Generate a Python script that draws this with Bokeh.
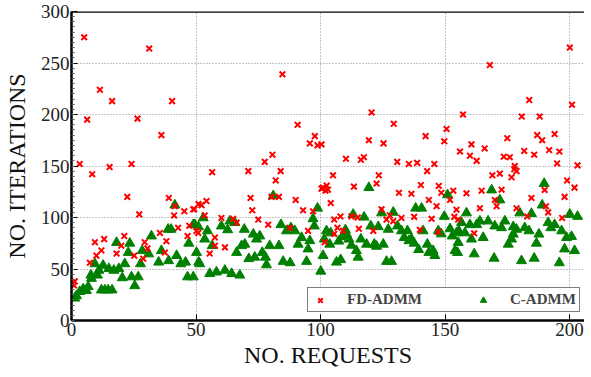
from bokeh.plotting import figure
from bokeh.models import Range1d, Span, Legend, LegendItem, FixedTicker
from bokeh.embed import file_html
from bokeh.resources import INLINE

# FD-ADMM (red x)
fd_x = [1, 1.3, 3.3, 5.1, 6.3, 7.4, 8.3, 9.4, 10, 11.4, 12, 13.1, 15.3, 16.3, 18.1, 20, 21.2, 22.4, 24.1, 25.2,
        26.5, 27.2, 28.8, 29.4, 30.5, 31.2, 35.5, 36.1, 37.5, 38.1, 39.1, 40.4, 41.2, 41.5, 42.8, 45.3, 46.6, 47.3,
        48.9, 49.3, 50.2, 50.9, 51, 52.2, 53.5, 54.2, 55.5, 56.5, 57.6, 57.6, 60.2, 61.6, 64.9, 66.3, 71, 71.9,
        72.6, 75, 77.6, 79, 80.3, 80.7, 82, 83.3, 84, 84.7, 87.7, 90, 90.8, 93, 95, 95.7, 97, 97.7, 98.8, 100.4,
        100.4, 101, 101.7, 102, 102.5, 103, 104.1, 105, 105.5, 105.5, 106.8, 108, 109.1, 110.2, 112.4, 113.4,
        114.9, 115.4, 116.2, 117.4, 119.4, 120.5, 121.2, 122.5, 123.4, 124.5, 125.3, 126.5, 127.8, 129.2, 129.4,
        130.8, 131.5, 132.5, 135.5, 136.5, 137.6, 138.8, 139.9, 140.3, 142.2, 142.8, 143.5, 144.6, 145.7, 146.6,
        147.3, 147.5, 148.5, 149.7, 150.6, 152, 153.3, 153.7, 154.6, 155.3, 156, 157.2, 158.6, 160, 160.6, 161.7,
        162.7, 164, 164.7, 165.9, 168, 169, 170, 170.7, 172, 172.7, 173.6, 175, 176, 176.7, 177.8, 178, 178.7,
        178.7, 180.8, 181.8, 183, 183.8, 184.7, 185.8, 187, 188, 189, 190, 190.5, 191.4, 191.8, 194, 195, 195.9,
        197, 198, 199, 200.1, 201, 202, 203.2]
fd_y = [34, 38, 152, 275, 195, 56, 142, 76, 63, 224, 68, 79, 149, 213, 65, 72.6, 82, 120, 152, 63,
        196, 103, 60, 76, 70, 264, 85, 180, 66, 77, 119, 213, 102, 111, 90, 106, 82, 92,
        108, 108, 87, 85, 113, 112, 102, 116, 65, 144, 80.5, 72.6, 99.6, 71, 98.7, 95, 145, 119,
        107, 98, 154, 93, 120, 161, 136, 120, 145, 239, 90, 117, 190, 107, 87, 172, 106, 179, 170, 171,
        128, 129, 76, 126, 131, 127, 114, 141, 98, 84, 90, 101, 87, 157, 101, 130,
        100, 89, 156, 158.5, 175, 202, 87, 133, 141, 108, 172, 98, 102, 96.5, 191,
        154, 124, 99.6, 152, 123, 100.6, 153, 88, 131.5, 179, 145, 117, 98.7, 152, 111,
        86, 130.6, 124, 174, 186, 117, 126, 100.6, 107.6, 98, 164, 200, 123.5, 160, 171, 84.7,
        155, 109, 126, 167, 248, 141, 117, 111, 142.6, 127, 159, 177, 158.5, 139, 147, 150, 145,
        109, 198, 164.6, 101, 214, 119, 161, 180, 198, 175, 126.7, 111, 105, 165.5, 181, 152.5, 164,
        99.6, 120, 136, 265, 209.5, 129, 150.6]

# C-ADMM (green triangles)
c_x = [1.3, 2, 3.3, 4.7, 6, 6.7, 7.8, 8, 9.4, 10.4, 11, 12, 12.7, 13.4, 14.7, 15, 16.3, 17, 18.1, 19, 20.4,
       21.4, 22.8, 23.4, 24.1, 25.4, 26.8, 27.7, 28.4, 31, 32.1, 35, 36.1, 38.8, 39, 40, 41.5, 42.2, 43.9, 45.8,
       46.6, 47.1, 48.9, 48.9, 49.5, 50.2, 51, 51.1, 51.5, 52.9, 53.5, 54.6, 55.5, 56.5, 58.2, 60.2, 61.6, 62.7,
       63.6, 64.3, 65.6, 66.3, 67.6, 68.3, 69.4, 69.6, 71.2, 73, 73.6, 74.3, 75.6, 76.6, 77.9, 78.3, 79.6, 81,
       83.3, 84.1, 85, 86.3, 87.8, 88.1, 89.7, 91, 92.4, 94.4, 95, 95.7, 97, 97.5, 98.8, 100.1, 101, 101.5,
       102.4, 103.7, 104.1, 106.4, 107.3, 108.1, 108.7, 110, 110.4, 111.4, 112.4, 113.1, 114.4, 115.1, 116.2,
       117.5, 118.5, 119.4, 120.2, 121.6, 122.5, 123.2, 124.5, 125.2, 126.5, 127.2, 128.5, 129.2, 130.9, 132.5,
       133.6, 134.9, 135.5, 136.5, 137.6, 138.2, 139.4, 140.6, 141.2, 142.9, 143.5, 145.2, 145.9, 147.3, 148.5,
       149.7, 151, 152, 152.9, 154, 154.6, 155, 155.3, 155.5, 156.6, 158, 158.6, 160, 160.6, 161.7, 162.7, 164,
       165.3, 167.3, 168.7, 169.7, 170, 172, 172.7, 174, 175.4, 176.7, 177.4, 177.4, 178.7, 180, 180.7, 182,
       183.7, 184.7, 185.8, 186.7, 187.7, 189, 189.8, 191.4, 192.5, 194, 195.9, 196.8, 198, 198.8, 200.1, 200.8,
       202, 203.2]
c_y = [21.7, 24, 28, 30.6, 29, 32.8, 44, 40.8, 55, 44, 48.7, 29.6, 53.5, 29.6, 29.6, 50.3, 29.6, 48.7, 75.7, 50.3, 41.4,
       55, 66, 75, 42.3, 33.7, 42.3, 55, 67.8, 64.6, 82, 56.6, 67.8, 88.5, 58, 88.5, 112, 63, 55, 56.6,
       42.3, 75, 93, 42.3, 93, 66, 91, 56.6, 55, 99.6, 79, 87, 45.5, 72.6, 47, 91.7, 48.7, 88,
       96.5, 45.5, 95, 66, 44, 72.6, 88.5, 74, 60, 83.8, 61.4, 79, 82, 66, 61.4, 54, 72.6, 121,
       72.6, 93, 57.3, 87, 56, 90, 87, 74, 80.5, 57.3, 69.4, 77.4, 98.7, 91.7, 109, 47.8, 63, 79,
       87, 74, 85, 56.6, 77, 59, 81.5, 88, 84, 79, 73, 103, 67.8, 61.4, 79,
       100.3, 74, 129, 91.7, 74, 72, 91, 104.4, 74, 57.3, 88.5, 57.3, 105, 91.7, 87,
       80.5, 87, 77.4, 79, 75, 109, 68.8, 109, 87, 74, 66, 67.8, 63, 87, 84,
       101, 122, 89, 82, 67.8, 85, 66, 75.7, 87, 95, 85, 104.4, 93, 79, 64.6, 93, 96.5,
       80.5, 96.5, 126.7, 60.4, 91.7, 117, 90, 96.5, 74, 79, 91, 83.8, 88.5, 104.4, 58, 90,
       87, 103.8, 60.4, 75, 83.8, 112, 133, 95, 90, 93, 56, 87, 69.4, 80.5, 103, 81.5,
       67.8, 101]

x_ticks = [0, 50, 100, 150, 200]
y_ticks = [0, 50, 100, 150, 200, 250, 300]
y_minor = list(range(0, 301, 5))
x_max = 206
y_max = 300

SERIF = "Liberation Serif"

p = figure(frame_width=513, frame_height=309, output_backend="svg", toolbar_location=None,
           x_range=Range1d(0, x_max), y_range=Range1d(0, y_max),
           min_border_left=62, min_border_right=0, min_border_top=11, min_border_bottom=40)
p.outline_line_color = None
p.background_fill_color = "white"

p.xaxis.ticker = FixedTicker(ticks=x_ticks)
p.yaxis.ticker = FixedTicker(ticks=y_ticks, minor_ticks=y_minor)

for ax in (p.xaxis[0], p.yaxis[0]):
    ax.axis_line_color = "black"
    ax.axis_line_width = 2.5
    ax.major_tick_in = 6
    ax.major_tick_out = 0
    ax.minor_tick_in = 3
    ax.minor_tick_out = 0
    ax.major_tick_line_color = "black"
    ax.minor_tick_line_color = "#555555"
    ax.major_label_text_font = SERIF
    ax.major_label_text_font_size = "19px"
    ax.major_label_text_color = "#222222"
    ax.axis_label_text_font = SERIF
    ax.axis_label_text_font_size = "24px"
    ax.axis_label_text_font_style = "normal"
    ax.axis_label_text_color = "#111111"
    ax.major_label_standoff = 2

p.xaxis.axis_label = "NO. REQUESTS"
p.yaxis.axis_label = "NO. ITERATIONS"
p.xaxis.axis_label_standoff = 3
p.yaxis.axis_label_standoff = 8

p.grid.grid_line_color = "#888888"
p.grid.grid_line_dash = "1 2"
p.grid.grid_line_width = 1

top = Span(location=y_max, dimension="width", line_color="black", line_width=2.5)
p.add_layout(top)

g = p.scatter(c_x, c_y, marker="triangle", size=10, fill_color="#008000", line_color="#008000")
r = p.scatter(fd_x, fd_y, marker="x", size=8, line_color="#ff0000", line_width=2)

legend = Legend(items=[LegendItem(label="FD-ADMM", renderers=[r]),
                       LegendItem(label="C-ADMM", renderers=[g])],
                orientation="horizontal", location=(236, 8),
                border_line_color="black", border_line_width=1.5,
                label_text_font=SERIF, label_text_font_style="bold", label_text_font_size="15px",
                glyph_width=18, glyph_height=16, label_standoff=18, spacing=52, padding=3,
                background_fill_alpha=1)
p.add_layout(legend)

open("out.html", "w").write(file_html(p, INLINE))
